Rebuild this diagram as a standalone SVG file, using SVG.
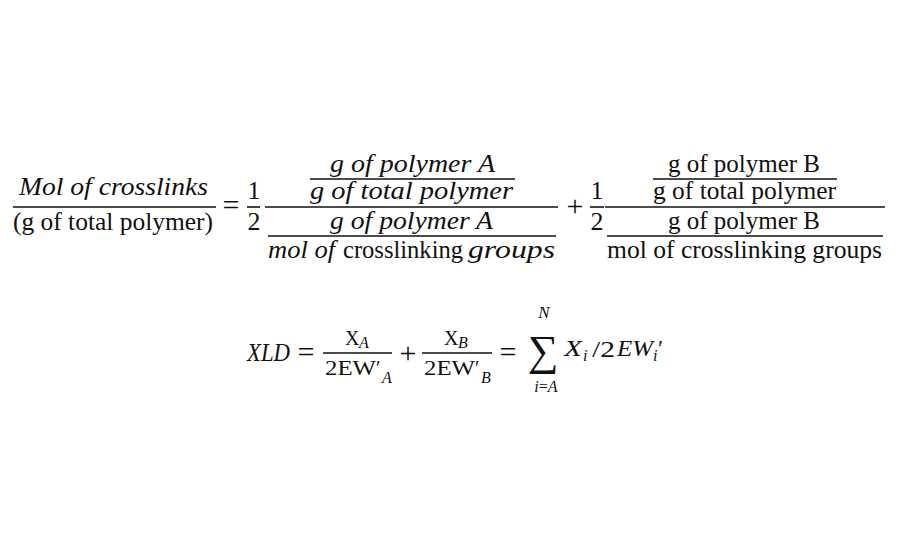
<svg xmlns="http://www.w3.org/2000/svg" width="900" height="550" viewBox="0 0 900 550">
<style>
text{font-family:"Liberation Serif","DejaVu Serif",serif;font-size:26px;fill:#111}
.i{font-style:italic}
.f{font-size:20px}
.s{font-size:16px}
.o{font-size:30px;text-anchor:middle}
.m{text-anchor:middle}
line{stroke:#111;stroke-width:1.6}
</style>
<rect width="900" height="550" fill="#fff"/>
<g id="eq1">
<text class="i" x="19" y="195" textLength="189" lengthAdjust="spacingAndGlyphs">Mol of  crosslinks</text>
<line x1="13" y1="207" x2="216" y2="207"/>
<text x="13" y="230" textLength="200" lengthAdjust="spacingAndGlyphs">(g of total polymer)</text>
<text class="o" x="231" y="215">=</text>
<text class="m" x="254" y="199">1</text>
<line x1="247" y1="207" x2="260" y2="207"/>
<text class="m" x="254" y="230">2</text>
<line x1="265" y1="207" x2="558" y2="207"/>
<text class="i" x="330" y="172" textLength="165" lengthAdjust="spacingAndGlyphs">g of  polymer A</text>
<line x1="310" y1="179" x2="515" y2="179"/>
<text class="i" x="310" y="199" textLength="203" lengthAdjust="spacingAndGlyphs">g of  total polymer</text>
<text class="i" x="330" y="228.5" textLength="163" lengthAdjust="spacingAndGlyphs">g of  polymer A</text>
<line x1="268" y1="236" x2="556" y2="236"/>
<text y="257.5"><tspan class="i" x="268" textLength="67" lengthAdjust="spacingAndGlyphs">mol of</tspan><tspan x="343" textLength="120" lengthAdjust="spacingAndGlyphs">crosslinking</tspan><tspan class="i" x="468" textLength="87" lengthAdjust="spacingAndGlyphs">groups</tspan></text>
<text class="o" x="575" y="216">+</text>
<text class="m" x="597" y="199">1</text>
<line x1="590" y1="207" x2="604" y2="207"/>
<text class="m" x="597" y="230">2</text>
<line x1="605" y1="207" x2="885" y2="207"/>
<text x="668" y="172" textLength="152" lengthAdjust="spacingAndGlyphs">g of polymer B</text>
<line x1="653" y1="179" x2="837" y2="179"/>
<text x="653" y="199" textLength="183" lengthAdjust="spacingAndGlyphs">g of total polymer</text>
<text x="668" y="228.5" textLength="152" lengthAdjust="spacingAndGlyphs">g of polymer B</text>
<line x1="607" y1="236" x2="883" y2="236"/>
<text x="607" y="257.5" textLength="275" lengthAdjust="spacingAndGlyphs">mol of crosslinking groups</text>
</g>
<g id="eq2">
<text class="i" x="247" y="361" textLength="43" lengthAdjust="spacingAndGlyphs">XLD</text>
<text class="o" x="306" y="362">=</text>
<text class="f" x="345" y="345">X</text>
<text class="i s" x="359" y="348">A</text>
<line x1="323" y1="353" x2="392" y2="353"/>
<text class="f" x="325" y="375" textLength="51" lengthAdjust="spacingAndGlyphs">2EW</text>
<text class="f" x="376" y="375">′</text>
<text class="i s" x="382" y="383">A</text>
<text class="o" x="408" y="363">+</text>
<text class="f" x="444" y="345">X</text>
<text class="i s" x="458" y="348">B</text>
<line x1="422" y1="353" x2="492" y2="353"/>
<text class="f" x="424" y="375" textLength="51" lengthAdjust="spacingAndGlyphs">2EW</text>
<text class="f" x="475" y="375">′</text>
<text class="i s" x="481" y="383">B</text>
<text class="o" x="508" y="362">=</text>
<text class="m" x="543" y="365" style="font-size:43px">∑</text>
<text class="i m" x="544" y="318" style="font-size:17px">N</text>
<text class="s m" x="546" y="392"><tspan class="i">i</tspan>=<tspan class="i">A</tspan></text>
<text class="i" x="564" y="356" textLength="18" lengthAdjust="spacingAndGlyphs" style="font-size:23px">X</text>
<text class="i s" x="583" y="361">i</text>
<text x="592" y="357" textLength="23" lengthAdjust="spacingAndGlyphs" style="font-size:23px">/2</text>
<text class="i" x="617" y="356" textLength="36" lengthAdjust="spacingAndGlyphs" style="font-size:23px">EW</text>
<text class="i s" x="653" y="361">i</text>
<text x="658" y="356" style="font-size:23px">′</text>
</g>
</svg>
